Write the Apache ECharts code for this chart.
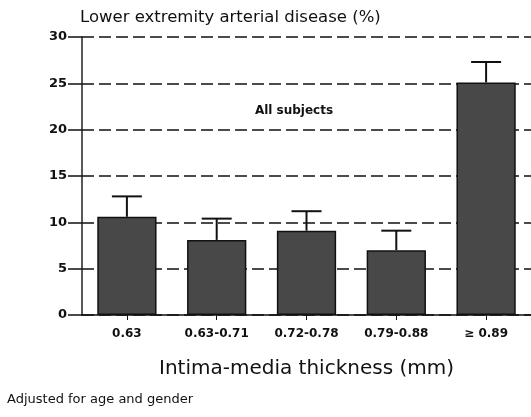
<!DOCTYPE html>
<html><head><meta charset="utf-8">
<script src="https://cdn.jsdelivr.net/npm/echarts@6/dist/echarts.min.js"></script>
<style>html,body{margin:0;padding:0;background:#fff}#c{width:531px;height:417px}</style>
</head><body><div id="c"></div>
<script>
const categories = ['0.63', '0.63-0.71', '0.72-0.78', '0.79-0.88', '\u2265 0.89'];
const values = [10.6, 8.1, 9.1, 7.0, 25.1];
const upper = [12.8, 10.4, 11.2, 9.1, 27.3];
const yTicks = [0, 5, 10, 15, 20, 25, 30];

const chart = echarts.init(document.getElementById('c'), null, {renderer: 'canvas'});
const F = '"DejaVu Sans", "Liberation Sans", Arial, sans-serif';
chart.setOption({
  animation: false,
  backgroundColor: '#fff',
  title: [
    {text: 'Lower extremity arterial disease (%)', left: 80, top: 9, padding: 0,
     textStyle: {fontFamily: F, fontSize: 16.5, fontWeight: 'normal', color: '#111'}},
    {text: 'All subjects', left: 294, top: 105, textAlign: 'center', padding: 0,
     textStyle: {fontFamily: F, fontSize: 12, fontWeight: 'bold', color: '#111'}},
    {text: 'Adjusted for age and gender', left: 7, top: 393, padding: 0,
     textStyle: {fontFamily: F, fontSize: 13, fontWeight: 'normal', color: '#111'}}
  ],
  grid: {left: 82, top: 37, width: 453, height: 278, containLabel: false},
  xAxis: {
    type: 'category', data: categories,
    axisLine: {show: true, onZero: true, lineStyle: {color: '#111', width: 1.5}},
    axisTick: {show: true, alignWithLabel: true, length: 5, lineStyle: {color: '#111', width: 1}},
    axisLabel: {fontFamily: F, fontSize: 12, fontWeight: 'bold', color: '#111', margin: 13},
    name: 'Intima-media thickness (mm)', nameLocation: 'middle', nameGap: 44,
    nameTextStyle: {fontFamily: F, fontSize: 20, color: '#111'}
  },
  yAxis: {
    type: 'value', min: 0, max: 30, interval: 5,
    axisLine: {show: true, lineStyle: {color: '#222', width: 1.5}},
    axisTick: {show: true, length: 14, inside: false, lineStyle: {color: '#111', width: 1.5}},
    axisLabel: {fontFamily: F, fontSize: 13, fontWeight: 'bold', color: '#111', margin: 15,
      formatter: v => yTicks.includes(v) ? String(v) : ''},
    splitLine: {show: true, lineStyle: {color: '#111', width: 1.5, type: [12, 5]}}
  },
  series: [
    {
      type: 'bar', data: values, barWidth: '66%',
      itemStyle: {color: '#484848', borderColor: '#111', borderWidth: 1.5},
      z: 3
    },
    {
      type: 'custom',
      data: values.map((v, i) => [i, v, upper[i]]),
      renderItem: function (params, api) {
        const lo = api.coord([api.value(0), api.value(1)]);
        const hi = api.coord([api.value(0), api.value(2)]);
        const half = 15;
        return {
          type: 'group',
          children: [
            {type: 'line', shape: {x1: lo[0], y1: lo[1], x2: hi[0], y2: hi[1]},
             style: {stroke: '#111', lineWidth: 2}},
            {type: 'line', shape: {x1: hi[0] - half, y1: hi[1], x2: hi[0] + half, y2: hi[1]},
             style: {stroke: '#111', lineWidth: 2}}
          ]
        };
      },
      z: 4
    }
  ]
});
</script></body></html>
